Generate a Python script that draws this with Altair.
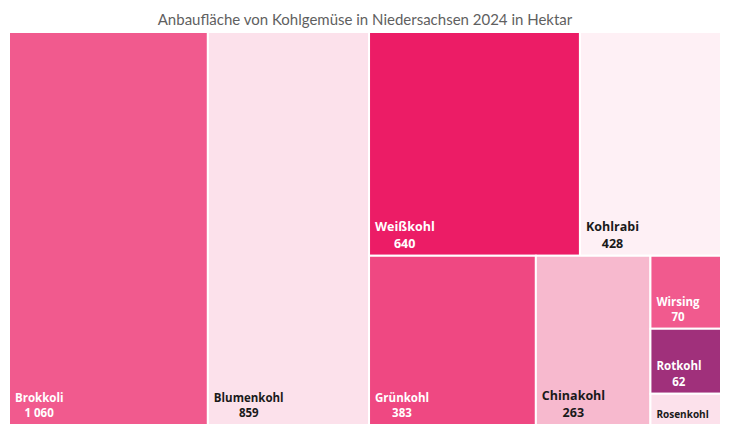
import altair as alt
import pandas as pd

# ---- data ----
categories = ["Brokkoli", "Blumenkohl", "Weißkohl", "Kohlrabi", "Grünkohl",
              "Chinakohl", "Wirsing", "Rotkohl", "Rosenkohl"]
values = [1060, 859, 640, 428, 383, 263, 70, 62, 30]
title_text = "Anbaufläche von Kohlgemüse in Niedersachsen 2024 in Hektar"

# ---- styles ----
fill_colors = ["#F15A8E", "#FCE1EB", "#EC1C66", "#FEF0F5", "#EF4882",
               "#F7B9CE", "#F15A8E", "#A0307B", "#FCE1EB"]
label_colors = ["#ffffff", "#1a1a1a", "#ffffff", "#1a1a1a", "#ffffff",
                "#1a1a1a", "#ffffff", "#ffffff", "#1a1a1a"]
label_sizes = [11.5, 11.5, 12.5, 12.5, 11.5, 12.5, 11.5, 11.5, 10]
FONT = "Open Sans"

W, H = 712, 393  # plot area in pixels


def squarify(vals, x0, y0, x1, y1, ratio=0.8):
    """squarified treemap tiling (d3 style) with a custom target ratio"""
    out = []
    n = len(vals)
    value = float(sum(vals))
    i0 = 0
    while i0 < n:
        dx, dy = x1 - x0, y1 - y0
        sum_v = min_v = max_v = vals[i0]
        i1 = i0 + 1
        alpha = max(dy / dx, dx / dy) / (value * ratio)
        beta = sum_v * sum_v * alpha
        min_ratio = max(max_v / beta, beta / min_v)
        while i1 < n:
            nv = vals[i1]
            sum_v += nv
            min_v = min(min_v, nv)
            max_v = max(max_v, nv)
            beta = sum_v * sum_v * alpha
            new_ratio = max(max_v / beta, beta / min_v)
            if new_ratio > min_ratio:
                sum_v -= nv
                break
            min_ratio = new_ratio
            i1 += 1
        row = vals[i0:i1]
        if dx < dy:
            yb = y0 + dy * sum_v / value
            xx = x0
            for v in row:
                w = dx * v / sum_v
                out.append((xx, y0, xx + w, yb))
                xx += w
            y0 = yb
        else:
            xb = x0 + dx * sum_v / value
            yy = y0
            for v in row:
                h = dy * v / sum_v
                out.append((x0, yy, xb, yy + h))
                yy += h
            x0 = xb
        value -= sum_v
        i0 = i1
    return out


# approximate bold glyph widths (em) to center the value under the name
GLYPH = {"B": .69, "C": .63, "G": .72, "K": .66, "R": .65, "W": .96,
         "a": .60, "b": .64, "e": .59, "g": .57, "h": .66, "i": .30,
         "k": .60, "l": .30, "m": .99, "n": .66, "o": .62, "r": .46,
         "s": .50, "t": .43, "u": .66, "ü": .66, "ß": .70}


def text_width(s, size):
    return sum(GLYPH.get(c, .6) for c in s) * size


rects = squarify(values, 0, 0, W, H)
rows = []
for name, v, (x0, y0, x1, y1), fc, tc, fs in zip(categories, values, rects,
                                                  fill_colors, label_colors, label_sizes):
    small = (y1 - y0) < 40
    val_y = y1 - 8
    rows.append({
        "name": name, "value": v,
        "x0": x0, "y0": y0, "x1": x1, "y1": y1,
        "fill": fc, "tcol": tc, "fs": fs,
        "lx": x0 + 6,
        "vx": x0 + 6 + text_width(name, fs) / 2,
        "ny": (y1 - 7) if small else (val_y - 1.33 * fs),
        "vy": val_y,
        "vlabel": "" if small else f"{v:,}".replace(",", " "),
        "nlabel": name,
    })
df = pd.DataFrame(rows)

xs = alt.Scale(domain=[0, W], range=[0, W], nice=False, zero=False)
ys = alt.Scale(domain=[0, H], range=[0, H], nice=False, zero=False)

base = alt.Chart(df)

tiles = base.mark_rect(stroke="white", strokeWidth=2).encode(
    x=alt.X("x0:Q", scale=xs, axis=None),
    x2="x1:Q",
    y=alt.Y("y0:Q", scale=ys, axis=None),
    y2="y1:Q",
    fill=alt.Fill("fill:N", scale=None),
    tooltip=["name:N", "value:Q"],
)

names_txt = base.mark_text(
    align="left", baseline="alphabetic", font=FONT, fontWeight="bold",
).encode(
    x=alt.X("lx:Q", scale=xs, axis=None),
    y=alt.Y("ny:Q", scale=ys, axis=None),
    text="nlabel:N",
    color=alt.Color("tcol:N", scale=None),
    size=alt.Size("fs:Q", scale=None),
)

vals_txt = base.transform_filter("datum.vlabel != ''").mark_text(
    align="center", baseline="alphabetic", font=FONT, fontWeight="bold",
).encode(
    x=alt.X("vx:Q", scale=xs, axis=None),
    y=alt.Y("vy:Q", scale=ys, axis=None),
    text="vlabel:N",
    color=alt.Color("tcol:N", scale=None),
    size=alt.Size("fs:Q", scale=None),
)

chart = alt.layer(tiles, names_txt, vals_txt).properties(
    width=W, height=H,
    autosize=alt.AutoSizeParams(type="none"),
    padding={"left": 1, "top": 24, "right": 1, "bottom": 2},
    title=alt.TitleParams(text=title_text, font="Lato", fontSize=15,
                          fontWeight="normal", color="#5f5f5f",
                          anchor="middle", baseline="alphabetic", offset=8, dy=17),
).configure_view(stroke=None)

chart.save("out.html", embed_options={"renderer": "svg", "actions": False})
